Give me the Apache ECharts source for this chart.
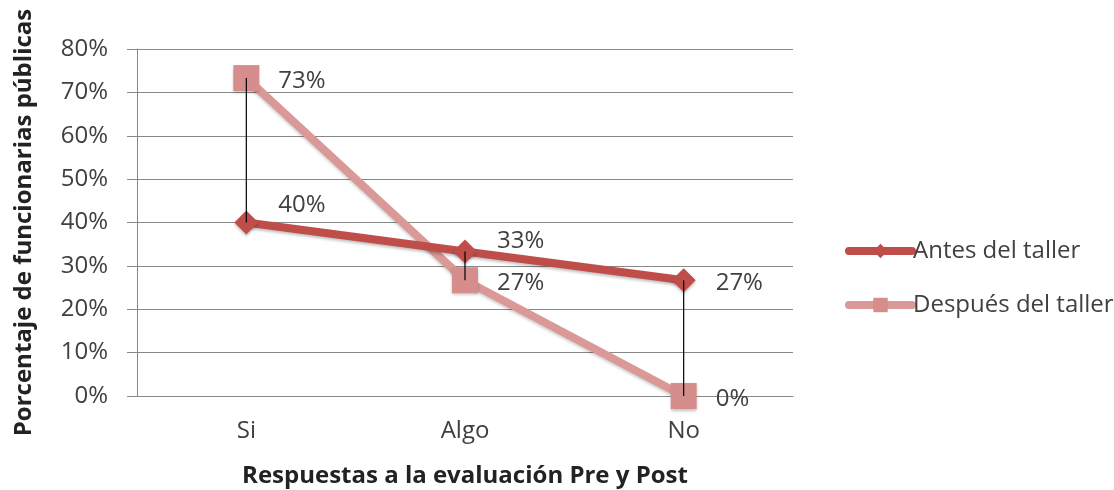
<!DOCTYPE html>
<html>
<head>
<meta charset="utf-8">
<script src="https://cdn.jsdelivr.net/npm/echarts@6/dist/echarts.min.js"></script>
<style>
  html, body { margin: 0; padding: 0; background: #fff; }
  #main { width: 1114px; height: 490px; }
</style>
</head>
<body>
<div id="main"></div>
<script>
// datos
var categorias = ['Si', 'Algo', 'No'];
var antes = [40, 33.3, 26.7];      // Antes del taller
var despues = [73.3, 26.7, 0];     // Después del taller
var yTicks = [0, 10, 20, 30, 40, 50, 60, 70, 80];

var chart = echarts.init(document.getElementById('main'));
var fuente = 'Open Sans';
var gris = '#404040';

// lineas verticales entre las dos series (high-low)
var dropData = categorias.map(function (c, i) {
  return [i, antes[i], despues[i]];
});

// ajuste de etiquetas como en el original
var antesOffsets = [[0, -17], [0, -10], [0, 3]];

var option = {
  animation: false,
  textStyle: { fontFamily: fuente },
  grid: { left: 137, right: 321, top: 49, bottom: 94, outerBoundsMode: 'none', containLabel: false },
  legend: {
    orient: 'vertical',
    left: 840,
    top: 234,
    itemWidth: 63,
    itemHeight: 18,
    itemGap: 30,
    lineStyle: { width: 8, cap: 'round' },
    textStyle: { fontSize: 24, color: gris, fontFamily: fuente, padding: [0, 0, 0, -4] },
    data: ['Antes del taller', 'Después del taller']
  },
  xAxis: {
    type: 'category',
    data: categorias,
    name: 'Respuestas a la evaluación Pre y Post',
    nameLocation: 'middle',
    nameGap: 68,
    nameTextStyle: { fontSize: 24, fontWeight: 'bold', color: '#222', fontFamily: fuente },
    axisLine: { lineStyle: { color: '#888', width: 1 } },
    axisTick: { show: false },
    axisLabel: { fontSize: 24, color: gris, margin: 23 }
  },
  yAxis: {
    type: 'value',
    min: yTicks[0],
    max: yTicks[yTicks.length - 1],
    interval: 10,
    name: 'Porcentaje de funcionarias públicas',
    nameLocation: 'middle',
    nameGap: 101,
    nameTextStyle: { fontSize: 24, fontWeight: 'bold', color: '#222', fontFamily: fuente },
    axisLine: { show: true, lineStyle: { color: '#888', width: 1 } },
    axisTick: { show: true, length: 10, lineStyle: { color: '#888' } },
    axisLabel: { fontSize: 24, color: gris, margin: 29, formatter: '{value}%' },
    splitLine: { lineStyle: { color: '#888', width: 1 } }
  },
  series: [
    {
      name: 'Antes del taller',
      type: 'line',
      data: antes.map(function (v, i) {
        return { value: v, label: { offset: antesOffsets[i] } };
      }),
      symbol: 'diamond',
      symbolSize: 24,
      lineStyle: { color: '#BF4E4B', width: 8, shadowColor: 'rgba(0,0,0,0.25)', shadowBlur: 3, shadowOffsetY: 2 },
      itemStyle: { color: '#BF4E4B', shadowColor: 'rgba(0,0,0,0.25)', shadowBlur: 3, shadowOffsetY: 2 },
      label: {
        show: true,
        position: 'right',
        distance: 20,
        fontSize: 24,
        color: gris,
        formatter: function (p) { return Math.round(p.value) + '%'; }
      },
      z: 3
    },
    {
      name: 'Después del taller',
      type: 'line',
      data: despues,
      symbol: 'rect',
      symbolSize: 26,
      lineStyle: { color: '#DA9996', width: 8, shadowColor: 'rgba(0,0,0,0.2)', shadowBlur: 3, shadowOffsetY: 2 },
      itemStyle: { color: '#D58E8C', shadowColor: 'rgba(0,0,0,0.25)', shadowBlur: 3, shadowOffsetY: 2 },
      label: {
        show: true,
        position: 'right',
        distance: 19,
        offset: [0, 3],
        fontSize: 24,
        color: gris,
        formatter: function (p) { return Math.round(p.value) + '%'; }
      },
      z: 2
    },
    {
      name: 'drop',
      type: 'custom',
      data: dropData,
      encode: { x: 0, y: [1, 2] },
      renderItem: function (params, api) {
        var p1 = api.coord([api.value(0), api.value(1)]);
        var p2 = api.coord([api.value(0), api.value(2)]);
        return {
          type: 'line',
          shape: { x1: p1[0], y1: p1[1], x2: p2[0], y2: p2[1] },
          style: { stroke: '#000', lineWidth: 1.2 }
        };
      },
      silent: true,
      z: 10
    }
  ]
};

chart.setOption(option);
</script>
</body>
</html>
